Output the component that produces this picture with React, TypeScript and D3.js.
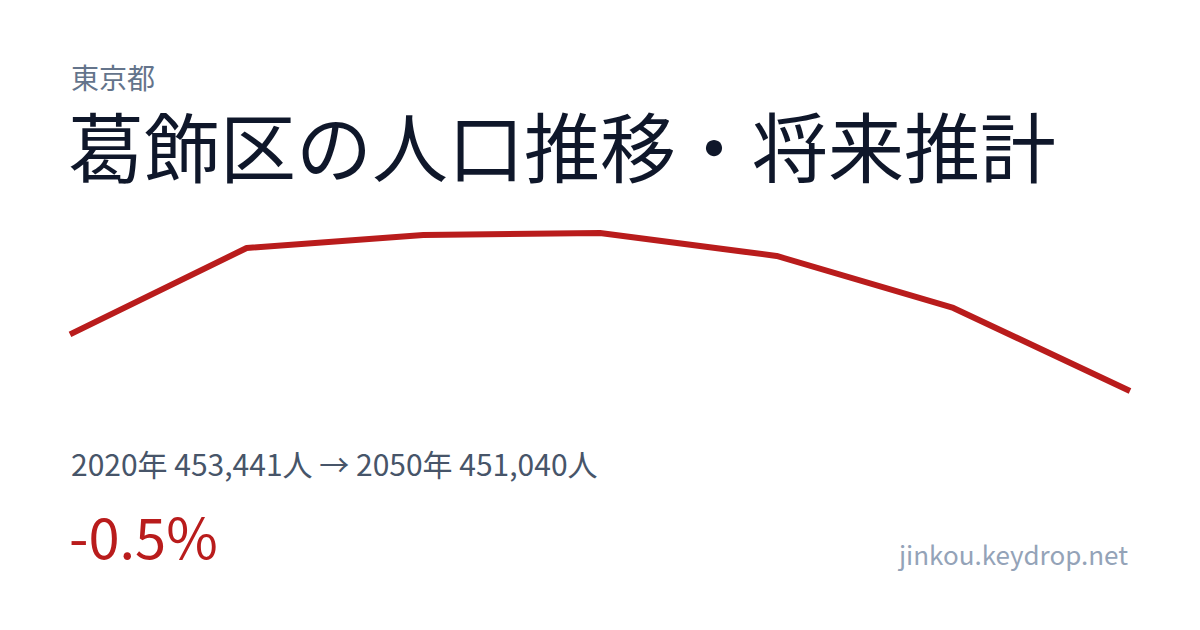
import React from 'react'
import * as d3 from 'd3'

// 葛飾区の人口推移 (国勢調査 + 将来推計)
const years = [2020, 2025, 2030, 2035, 2040, 2045, 2050]
const population = [453441, 457104, 457655, 457740, 456765, 454560, 451040]

const prefecture = '東京都'
const title = '葛飾区の人口推移・将来推計'
const siteName = 'jinkou.keydrop.net'

const W = 1200
const H = 630
const FONT = '"Noto Sans CJK JP", "Noto Sans", sans-serif'

const App: React.FC = () => {
  const data = years.map((year, i) => ({ year, value: population[i] }))

  const x = d3.scaleLinear()
    .domain(d3.extent(years) as [number, number])
    .range([70, 1130])

  const y = d3.scaleLinear()
    .domain(d3.extent(population) as [number, number])
    .range([391, 233])

  const line = d3.line<{ year: number; value: number }>()
    .x(d => x(d.year))
    .y(d => y(d.value))

  const first = data[0]
  const last = data[data.length - 1]
  const change = (last.value - first.value) / first.value * 100
  const fmt = d3.format(',')
  const summary = `${first.year}年 ${fmt(first.value)}人 → ${last.year}年 ${fmt(last.value)}人`
  const changeLabel = `${change >= 0 ? '+' : ''}${change.toFixed(1)}%`

  return (
    <div style={{ position: 'fixed', left: 0, top: 0 }}>
      <svg width={W} height={H} style={{ display: 'block', background: '#fff' }} fontFamily={FONT}>
        <rect width={W} height={H} fill="#ffffff" />
        <text x={71} y={89} fontSize={28} fill="#64748b">{prefecture}</text>
        <text x={68} y={177} fontSize={76} fill="#0f172a">{title}</text>

        <path d={line(data) || ''} fill="none" stroke="#b91c1c" strokeWidth={6} strokeLinejoin="round" />

        <text x={71} y={476} fontSize={30} fill="#475569">{summary}</text>
        <text x={69} y={559} fontSize={56} fill="#b91c1c">{changeLabel}</text>
        <text x={1128} y={565} fontSize={26} fill="#94a3b8" textAnchor="end">{siteName}</text>
      </svg>
    </div>
  )
}

export default App
